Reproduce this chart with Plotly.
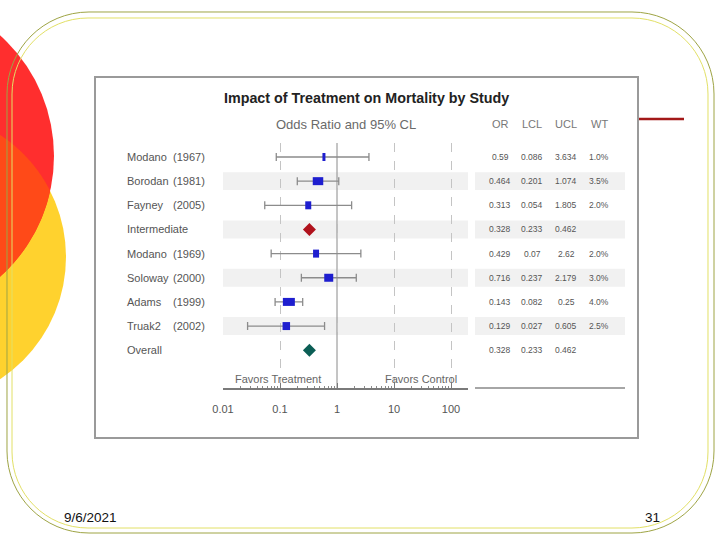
import numpy as np
import plotly.graph_objects as go

# ---------------- data ----------------
names = ["Modano", "Borodan", "Fayney", "Intermediate", "Modano", "Soloway", "Adams", "Truak2", "Overall"]
years = ["(1967)", "(1981)", "(2005)", "", "(1969)", "(2000)", "(1999)", "(2002)", ""]
odds_ratio = [0.59, 0.464, 0.313, 0.328, 0.429, 0.716, 0.143, 0.129, 0.328]
lcl = [0.086, 0.201, 0.054, 0.233, 0.07, 0.237, 0.082, 0.027, 0.233]
ucl = [3.634, 1.074, 1.805, 0.462, 2.62, 2.179, 0.25, 0.605, 0.462]
or_text = ["0.59", "0.464", "0.313", "0.328", "0.429", "0.716", "0.143", "0.129", "0.328"]
lcl_text = ["0.086", "0.201", "0.054", "0.233", "0.07", "0.237", "0.082", "0.027", "0.233"]
ucl_text = ["3.634", "1.074", "1.805", "0.462", "2.62", "2.179", "0.25", "0.605", "0.462"]
weights = [1.0, 3.5, 2.0, None, 2.0, 3.0, 4.0, 2.5, None]
wt_text = ["1.0%", "3.5%", "2.0%", "", "2.0%", "3.0%", "4.0%", "2.5%", ""]
row_kind = ["study", "study", "study", "summary_mid", "study", "study", "study", "study", "summary_all"]
tick_vals = [0.01, 0.1, 1, 10, 100]
tick_text = ["0.01", "0.1", "1", "10", "100"]
col_headers = ["OR", "LCL", "UCL", "WT"]

W, H = 720, 540
def px(x):
    return x / W
def py(y):
    return 1 - y / H

FONT = "Liberation Sans, Arial, sans-serif"
rows = list(range(len(names)))

fig = go.Figure()

# CI whiskers for studies
st = [i for i in rows if row_kind[i] == "study"]
fig.add_trace(go.Scatter(
    x=[odds_ratio[i] for i in st], y=[i for i in st], mode="markers",
    marker=dict(size=1, opacity=0),
    error_x=dict(type="data", symmetric=False,
                 array=[ucl[i] - odds_ratio[i] for i in st],
                 arrayminus=[odds_ratio[i] - lcl[i] for i in st],
                 color="#8c8c8c", thickness=1.3, width=4),
    showlegend=False, hoverinfo="skip"))

# weighted boxes (width proportional to weight, drawn on the log scale)
bx, by = [], []
for i in st:
    hw = 1.5 * weights[i] / 57.0
    bx += [odds_ratio[i] * 10 ** (-hw), odds_ratio[i] * 10 ** hw, None]
    by += [i, i, None]
fig.add_trace(go.Scatter(x=bx, y=by, mode="lines",
                         line=dict(color="#1e1ecf", width=8),
                         showlegend=False, hoverinfo="skip"))

# summary diamonds
for kind, col in [("summary_mid", "#b0121c"), ("summary_all", "#0b5e55")]:
    idx = [i for i in rows if row_kind[i] == kind]
    fig.add_trace(go.Scatter(x=[odds_ratio[i] for i in idx], y=idx, mode="markers",
                             marker=dict(symbol="diamond", size=10, color=col),
                             showlegend=False, hoverinfo="skip"))

shapes = []
# decorative circles
def circ(cx, cy, r, color):
    return dict(type="circle", xref="paper", yref="paper",
                x0=px(cx - r), x1=px(cx + r), y0=py(cy + r), y1=py(cy - r),
                fillcolor=color, line=dict(width=0), layer="below")
red_c = (-108, 156, 162)
yel_c = (-80, 257, 146)
shapes.append(circ(*yel_c, "#ffd22e"))
shapes.append(circ(*red_c, "#ff2e2e"))
# overlap region
t = np.linspace(0, 2 * np.pi, 720)
pts = []
for (a, b) in [(red_c, yel_c), (yel_c, red_c)]:
    xs = a[0] + a[2] * np.cos(t)
    ys = a[1] + a[2] * np.sin(t)
    inside = (xs - b[0]) ** 2 + (ys - b[1]) ** 2 <= b[2] ** 2
    pts += list(zip(xs[inside], ys[inside]))
pts = np.array(pts)
cxm, cym = pts.mean(axis=0)
order = np.argsort(np.arctan2(pts[:, 1] - cym, pts[:, 0] - cxm))
pts = pts[order]
path = "M " + " L ".join(f"{px(x):.5f},{py(y):.5f}" for x, y in pts) + " Z"
shapes.append(dict(type="path", xref="paper", yref="paper", path=path,
                   fillcolor="#ff4a18", line=dict(width=0), layer="below"))

# rounded slide frame
def rrect(x0, y0, x1, y1, r):
    k = 0.5523 * r
    P = lambda x, y: f"{px(x):.5f},{py(y):.5f}"
    return ("M " + P(x0 + r, y0) + " L " + P(x1 - r, y0) +
            " C " + P(x1 - r + k, y0) + " " + P(x1, y0 + r - k) + " " + P(x1, y0 + r) +
            " L " + P(x1, y1 - r) +
            " C " + P(x1, y1 - r + k) + " " + P(x1 - r + k, y1) + " " + P(x1 - r, y1) +
            " L " + P(x0 + r, y1) +
            " C " + P(x0 + r - k, y1) + " " + P(x0, y1 - r + k) + " " + P(x0, y1 - r) +
            " L " + P(x0, y0 + r) +
            " C " + P(x0, y0 + r - k) + " " + P(x0 + r - k, y0) + " " + P(x0 + r, y0) + " Z")
shapes.append(dict(type="path", xref="paper", yref="paper", path=rrect(7, 12, 714, 533, 82),
                   line=dict(color="#9ea444", width=1), layer="below"))
shapes.append(dict(type="path", xref="paper", yref="paper", path=rrect(12, 18, 708, 528, 76),
                   line=dict(color="#e2e066", width=1), layer="below"))

# red accent line
shapes.append(dict(type="line", xref="paper", yref="paper", x0=px(638), x1=px(684),
                   y0=py(119), y1=py(119), line=dict(color="#a31818", width=2.5), layer="below"))

# chart box
shapes.append(dict(type="rect", xref="paper", yref="paper", x0=px(95), x1=px(638),
                   y0=py(438), y1=py(77), fillcolor="white",
                   line=dict(color="#9a9a9a", width=2), layer="below"))

# alternating row bands
for i in rows:
    if i % 2 == 1:
        shapes.append(dict(type="rect", xref="x domain", yref="y", x0=0, x1=1,
                           y0=i - 0.37, y1=i + 0.37, fillcolor="#f1f1f1",
                           line=dict(width=0), layer="below"))
        shapes.append(dict(type="rect", xref="paper", yref="y", x0=px(475), x1=px(625),
                           y0=i - 0.37, y1=i + 0.37, fillcolor="#f1f1f1",
                           line=dict(width=0), layer="below"))

# reference line at OR = 1
shapes.append(dict(type="line", xref="x", yref="y domain", x0=1, x1=1, y0=0, y1=1,
                   line=dict(color="#8a8a8a", width=1), layer="below"))
# table baseline
shapes.append(dict(type="line", xref="paper", yref="paper", x0=px(475), x1=px(625),
                   y0=py(388), y1=py(388), line=dict(color="#888888", width=1.5), layer="below"))

ann = []
def A(text, x, y, size, color="#555", xanchor="center", bold=False, yref="paper", font=FONT):
    ann.append(dict(text=f"<b>{text}</b>" if bold else text, x=x, y=y, xref="paper", yref=yref,
                    xanchor=xanchor, yanchor="middle", showarrow=False,
                    font=dict(family=font, size=size, color=color)))

A("Impact of Treatment on Mortality by Study", px(366), py(98), 14.3, "#222", bold=True)
A("Odds Ratio and 95% CL", px(346), py(124), 13, "#6a6a6a")
for h, xc in zip(col_headers, [500, 532, 566, 599]):
    A(h, px(xc), py(124), 11, "#777")
for i in rows:
    A(names[i], px(125), i, 11, "#555", xanchor="left", yref="y")
    if years[i]:
        A(years[i], px(207), i, 11, "#555", xanchor="right", yref="y")
    for txt, xc in zip([or_text[i], lcl_text[i], ucl_text[i], wt_text[i]], [500, 532, 566, 599]):
        if txt:
            A(txt, px(xc), i, 8.5, "#555", yref="y")
A("Favors Treatment", px(278), py(379), 11, "#666")
A("Favors Control", px(421), py(379), 11, "#666")
A("9/6/2021", px(62), py(517), 13.5, "#111", xanchor="left")
A("31", px(643), py(517), 13.5, "#111", xanchor="left")

minor_vals = [m * 10 ** e for e in range(-2, 2) for m in range(2, 10)] + [200]

fig.update_layout(
    width=W, height=H, margin=dict(l=0, r=0, t=0, b=0, pad=0, autoexpand=False), autosize=False,
    paper_bgcolor="white", plot_bgcolor="rgba(0,0,0,0)",
    shapes=shapes, annotations=ann, showlegend=False,
    xaxis=dict(type="log", range=[-2, 2.298], domain=[px(223), px(468)],
               tickvals=tick_vals, ticktext=tick_text, automargin=False,
               showgrid=True, gridcolor="#c4c4c4", griddash="dash", gridwidth=1,
               zeroline=False, showline=True, linecolor="#7a7a7a", linewidth=1.5,
               ticks="inside", ticklen=5, tickcolor="#7a7a7a", tickwidth=1,
               minor=dict(tickvals=minor_vals, ticks="inside", ticklen=2,
                          tickcolor="#8a8a8a", showgrid=False),
               tickfont=dict(family=FONT, size=11, color="#555"),
               ticklabelstandoff=10, fixedrange=True),
    yaxis=dict(range=[9.565, -0.58], domain=[py(388), py(143)], automargin=False,
               showgrid=False, zeroline=False, showline=False, showticklabels=False,
               ticks="", fixedrange=True),
)

fig.write_html("out.html", config={"displayModeBar": False, "responsive": False},
               post_script="document.body.style.margin='0';document.body.style.overflow='hidden';")
